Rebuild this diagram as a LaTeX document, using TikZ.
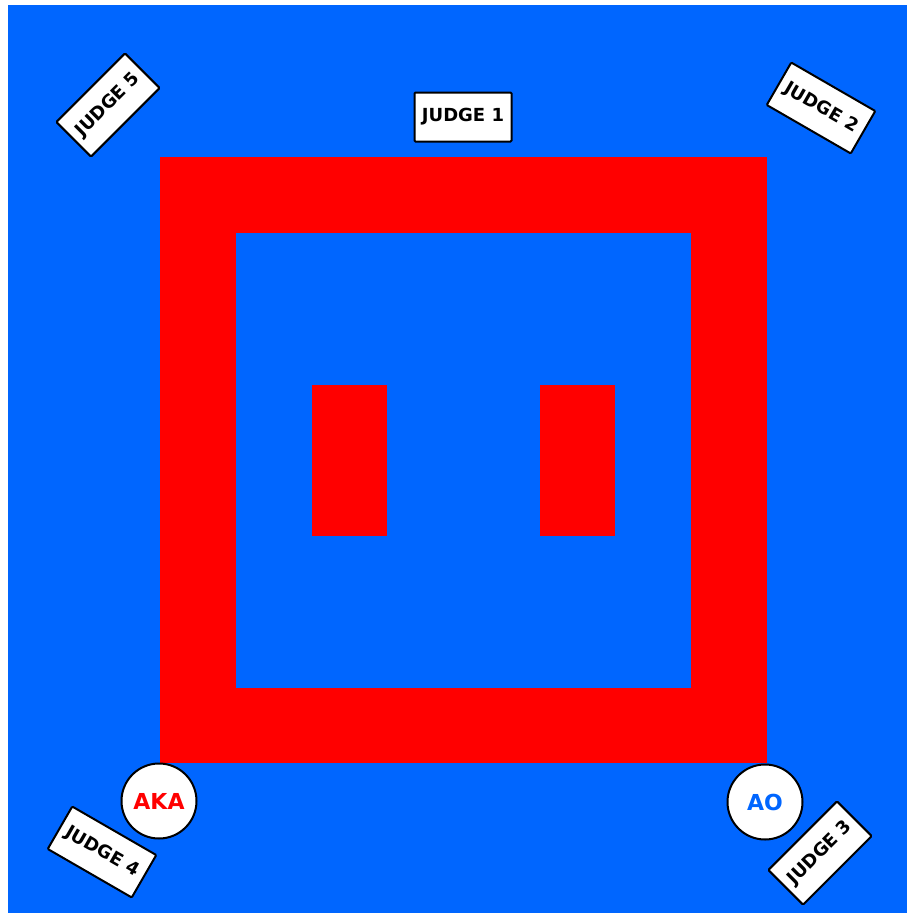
\documentclass[tikz,border=0pt]{standalone}
\usepackage{fontspec}
\setmainfont{DejaVu Sans}
\usepackage{xcolor}
\definecolor{cMat}{HTML}{0066FF}
\definecolor{cArea}{HTML}{FF0000}
\usetikzlibrary{positioning}
\tikzset{
  judge-box/.style={draw=black,line width=2pt,fill=white,rounded corners=1pt,
    minimum width=97pt,minimum height=49pt,inner sep=0pt,
    font=\fontsize{18}{18}\selectfont\bfseries},
  corner-circle/.style={draw=black,line width=2pt,fill=white,circle,
    minimum size=75pt,inner sep=0pt,font=\fontsize{22}{22}\selectfont\bfseries},
  area/.style={fill=cArea},
}
\begin{document}
\begin{tikzpicture}[x=1pt,y=-1pt]
  \useasboundingbox (0,0) rectangle (907,913);
  % mat and competition area
  \fill[cMat] (8,5) rectangle (907,913);
  \fill[area] (160,157) rectangle (767,763);
  \fill[cMat] (236,233) rectangle (691,688);
  \fill[area] (312,385) rectangle (387,536);
  \fill[area] (540,385) rectangle (615,536);
  % judges
  \node[judge-box]           (j1) at (463,117) {JUDGE 1};
  \node[judge-box,rotate=-30] (j2) at (821,108) {JUDGE 2};
  \node[judge-box,rotate=45]  (j3) at (820,853) {JUDGE 3};
  \node[judge-box,rotate=-30] (j4) at (102,852) {JUDGE 4};
  \node[judge-box,rotate=45]  (j5) at (108,105) {JUDGE 5};
  % competitors
  \node[corner-circle,text=cArea] (aka) at (159,801) {AKA};
  \node[corner-circle,text=cMat]  (ao)  at (765,802) {AO};
\end{tikzpicture}
\end{document}
